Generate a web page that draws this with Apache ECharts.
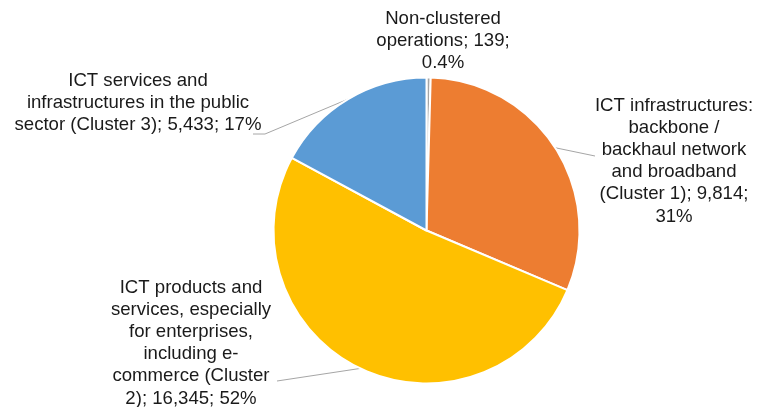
<!DOCTYPE html>
<html>
<head>
<meta charset="utf-8">
<script src="https://cdn.jsdelivr.net/npm/echarts@6/dist/echarts.min.js"></script>
<style>
  html, body { margin: 0; padding: 0; background: #fff; }
  #chart { width: 758px; height: 407px; }
</style>
</head>
<body>
<div id="chart"></div>
<script>
// Operations by cluster: name, amount, colour
const categories = [
  'Non-clustered operations',
  'ICT infrastructures: backbone / backhaul network and broadband (Cluster 1)',
  'ICT products and services, especially for enterprises, including e-commerce (Cluster 2)',
  'ICT services and infrastructures in the public sector (Cluster 3)'
];
const values = [139, 9814, 16345, 5433];
const colors = ['#A5A5A5', '#ED7D31', '#FFC000', '#5B9BD5'];

// Label text with its line breaks; {v} = value, {p} = percentage
const labelTemplates = [
  'Non-clustered\noperations; {v};\n{p}',
  'ICT infrastructures:\nbackbone /\nbackhaul network\nand broadband\n(Cluster 1); {v};\n{p}',
  'ICT products and\nservices, especially\nfor enterprises,\nincluding e-\ncommerce (Cluster\n2); {v}; {p}',
  'ICT services and\ninfrastructures in the public\nsector (Cluster 3); {v}; {p}'
];

// Label block centres and where each leader line ends
const labelAnchors = [
  { x: 443, y: 41, line: null },
  { x: 674, y: 161, line: [[595, 156]] },
  { x: 191, y: 343, line: [[277, 381]] },
  { x: 138, y: 103, line: [[265, 134], [253, 134]] }
];

const total = values.reduce((a, b) => a + b, 0);
function fmtPct(v) {
  const p = v / total * 100;
  return p < 1 ? p.toFixed(1) + '%' : Math.round(p) + '%';
}

const chart = echarts.init(document.getElementById('chart'), null, { renderer: 'canvas' });
chart.setOption({
  animation: false,
  backgroundColor: '#ffffff',
  series: [{
    type: 'pie',
    center: [426.5, 230.5],
    radius: 153,
    startAngle: 90,
    clockwise: true,
    avoidLabelOverlap: false,
    itemStyle: { borderColor: '#ffffff', borderWidth: 2 },
    label: {
      show: true,
      position: 'outside',
      color: '#1a1a1a',
      fontFamily: '"Liberation Sans", Arial, sans-serif',
      fontSize: 18.6,
      lineHeight: 22.2,
      align: 'center',
      formatter: (p) => labelTemplates[p.dataIndex]
        .replace('{v}', values[p.dataIndex].toLocaleString('en-US'))
        .replace('{p}', fmtPct(values[p.dataIndex]))
    },
    labelLine: {
      show: true,
      lineStyle: { color: '#A6A6A6', width: 1 }
    },
    labelLayout: (params) => {
      const a = labelAnchors[params.dataIndex];
      const out = { x: a.x, y: a.y, align: 'center', verticalAlign: 'middle' };
      if (a.line && params.labelLinePoints) {
        const start = params.labelLinePoints[0];
        const pts = [start].concat(a.line);
        while (pts.length < 3) pts.push(pts[pts.length - 1]);
        out.labelLinePoints = pts;
      } else {
        out.labelLinePoints = [[0, 0], [0, 0], [0, 0]];
      }
      return out;
    },
    data: categories.map((name, i) => ({
      name: name,
      value: values[i],
      itemStyle: { color: colors[i] },
      labelLine: { show: !!labelAnchors[i].line }
    }))
  }]
});
</script>
</body>
</html>
